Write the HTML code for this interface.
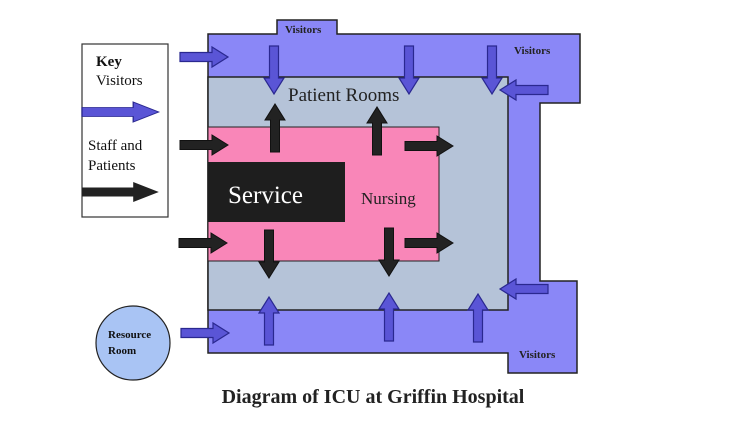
<!DOCTYPE html>
<html><head><meta charset="utf-8"><style>
html,body{margin:0;padding:0;background:#fff;}
svg{display:block;}
text{font-family:"Liberation Serif",serif;}
</style></head><body>
<svg width="756" height="431" viewBox="0 0 756 431" xmlns="http://www.w3.org/2000/svg">
<defs>
<g id="ab"><polygon points="0,-4.5 32,-4.5 32,-10 48,0 32,10 32,4.5 0,4.5" fill="#5a55d6" stroke="#2a2890" stroke-width="1.2"/></g>
<g id="ak"><polygon points="0,-4.5 32,-4.5 32,-10 48,0 32,10 32,4.5 0,4.5" fill="#222" stroke="#111" stroke-width="1"/></g>
</defs>
<polygon points="208,34 277,34 277,20 337,20 337,34 580,34 580,103 540,103 540,281 577,281 577,373 508,373 508,353 208,353" fill="#8a87f7" stroke="#222" stroke-width="1.5"/>
<rect x="208" y="77" width="300" height="233" fill="#b5c3d8" stroke="#222" stroke-width="1.5"/>
<rect x="208" y="127" width="231" height="134" fill="#f986b8" stroke="#222" stroke-width="1"/>
<rect x="208" y="162" width="137" height="60" fill="#1e1e1e"/>
<text x="228" y="203" font-size="25" fill="#fff">Service</text>
<text x="361" y="204" font-size="17" fill="#222">Nursing</text>
<text x="288" y="101" font-size="19" fill="#222">Patient Rooms</text>
<text x="285" y="33" font-size="11" font-weight="bold" fill="#222">Visitors</text>
<text x="514" y="54" font-size="11" font-weight="bold" fill="#222">Visitors</text>
<text x="519" y="358" font-size="11" font-weight="bold" fill="#222">Visitors</text>
<use href="#ab" transform="translate(180,57)"/>
<use href="#ab" transform="translate(274,46) rotate(90)"/>
<use href="#ab" transform="translate(409,46) rotate(90)"/>
<use href="#ab" transform="translate(492,46) rotate(90)"/>
<use href="#ab" transform="translate(548,90) rotate(180)"/>
<use href="#ab" transform="translate(548,289) rotate(180)"/>
<use href="#ab" transform="translate(269,345) rotate(-90)"/>
<use href="#ab" transform="translate(389,341) rotate(-90)"/>
<use href="#ab" transform="translate(478,342) rotate(-90)"/>
<use href="#ab" transform="translate(181,333)"/>
<use href="#ak" transform="translate(180,145)"/>
<use href="#ak" transform="translate(275,152) rotate(-90)"/>
<use href="#ak" transform="translate(377,155) rotate(-90)"/>
<use href="#ak" transform="translate(405,146)"/>
<use href="#ak" transform="translate(269,230) rotate(90)"/>
<use href="#ak" transform="translate(389,228) rotate(90)"/>
<use href="#ak" transform="translate(179,243)"/>
<use href="#ak" transform="translate(405,243)"/>
<rect x="82" y="44" width="86" height="173" fill="#fff" stroke="#333" stroke-width="1.2"/>
<text x="96" y="66" font-size="15" font-weight="bold" fill="#111">Key</text>
<text x="96" y="85" font-size="15" fill="#111">Visitors</text>
<text x="88" y="150" font-size="15" fill="#111">Staff and</text>
<text x="88" y="170" font-size="15" fill="#111">Patients</text>
<g transform="translate(82,112) scale(1.6,1)"><polygon points="0,-4.5 32,-4.5 32,-10 48,0 32,10 32,4.5 0,4.5" fill="#5a55d6" stroke="#2a2890" stroke-width="0.8"/></g>
<g transform="translate(82,192) scale(1.6,1)"><polygon points="0,-4.5 32,-4.5 32,-10 48,0 32,10 32,4.5 0,4.5" fill="#222"/></g>
<circle cx="133" cy="343" r="37" fill="#a9c4f4" stroke="#222" stroke-width="1.2"/>
<text x="108" y="338" font-size="11" font-weight="bold" fill="#111">Resource</text>
<text x="108" y="354" font-size="11" font-weight="bold" fill="#111">Room</text>
<text x="373" y="403" font-size="20" font-weight="bold" fill="#222" text-anchor="middle">Diagram of ICU at Griffin Hospital</text>
</svg>
</body></html>
